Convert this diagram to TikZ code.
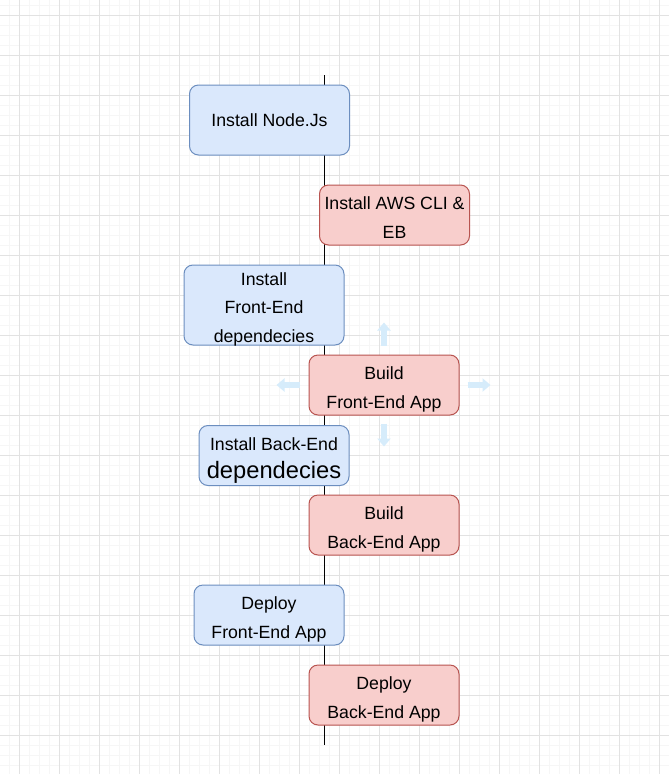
\documentclass[tikz,border=0pt]{standalone}
\usepackage{fontspec}
\setmainfont{Liberation Sans}
\usepackage{tikz}
\usetikzlibrary{arrows.meta}

\definecolor{blfill}{HTML}{DAE8FC}
\definecolor{bldraw}{HTML}{6C8EBF}
\definecolor{rdfill}{HTML}{F8CECC}
\definecolor{rddraw}{HTML}{B85450}
\definecolor{hoverblue}{RGB}{214,236,251}
\definecolor{gridmajor}{RGB}{226,226,226}
\definecolor{gridminor}{RGB}{246,246,246}

% one line box of the labels
\newcommand\lh{\rule[-5.4pt]{0pt}{28.5pt}}

\tikzset{
  box/.style={rounded corners=9pt, line width=1pt, inner xsep=2pt, inner ysep=-3pt,
              align=center, font={\fontsize{17.7pt}{28.5pt}\selectfont}, text=black},
  bluebox/.style={box, draw=bldraw, fill=blfill},
  redbox/.style={box, draw=rddraw, fill=rdfill},
  hover/.style={draw=hoverblue, line width=5.5pt, -{Triangle[width=13pt,length=8pt]}},
}

\begin{document}
\begin{tikzpicture}[x=1pt, y=-1pt]
  \useasboundingbox (0,0) rectangle (669,774);
  \fill[white] (0,0) rectangle (669,774);

  % background grid
  \foreach \x in {9,19,...,669} \draw[gridminor, line width=1pt] (\x,0) -- (\x,774);
  \foreach \y in {5,15,...,774} \draw[gridminor, line width=1pt] (0,\y) -- (669,\y);
  \foreach \x in {19,59,...,669} \draw[gridmajor, line width=1pt] (\x,0) -- (\x,774);
  \foreach \y in {15,55,...,774} \draw[gridmajor, line width=1pt] (0,\y) -- (669,\y);

  % spine
  \coordinate (top) at (324,75);
  \coordinate (bot) at (324,745);
  \draw[line width=1pt, black] (top) -- (bot);

  \node[bluebox, minimum width=160pt, minimum height=70pt] (node) at (269.5,120) {Install Node.Js};
  \node[redbox,  minimum width=150pt, minimum height=60pt] (aws)  at (394.5,215) {\lh Install AWS CLI \&\\\lh EB};
  \node[bluebox, minimum width=160pt, minimum height=80pt] (fedep) at (264,305) {\lh Install\\\lh Front-End\\\lh dependecies};
  \node[redbox,  minimum width=150pt, minimum height=60pt] (febuild) at (384,385) {\lh Build\\\lh Front-End App};
  \node[bluebox, minimum width=150pt, minimum height=60pt] (bedep) at (274,455.5)
       {\lh Install Back-End\\\lh{\fontsize{23.7pt}{28.5pt}\selectfont dependecies}};
  \node[redbox,  minimum width=150pt, minimum height=60pt] (bebuild) at (384,525) {\lh Build\\\lh Back-End App};
  \node[bluebox, minimum width=150pt, minimum height=60pt] (fedeploy) at (269,615) {\lh Deploy\\\lh Front-End App};
  \node[redbox,  minimum width=150pt, minimum height=60pt] (bedeploy) at (384,695) {\lh Deploy\\\lh Back-End App};

  % hover arrows round the selected box
  \draw[hover] ([yshift=9pt]febuild.north) -- ++(0,-23);
  \draw[hover] ([yshift=-8pt]febuild.south) -- ++(0,23);
  \draw[hover] ([xshift=-9pt]febuild.west) -- ++(-23,0);
  \draw[hover] ([xshift=8pt]febuild.east) -- ++(23,0);
\end{tikzpicture}
\end{document}
